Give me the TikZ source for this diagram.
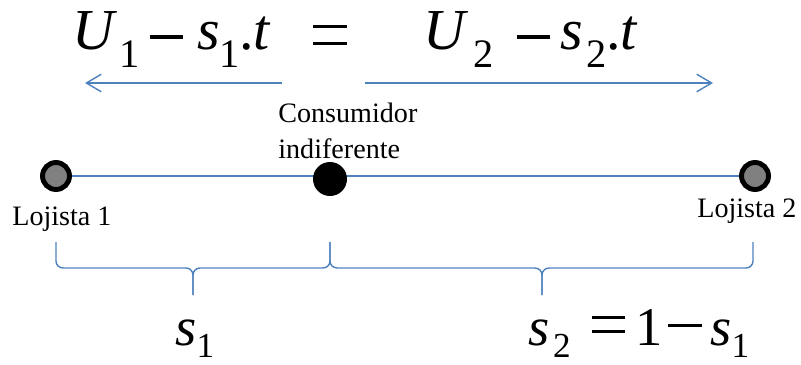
\documentclass[tikz,border=0pt]{standalone}
\usepackage{fontspec}
\setmainfont{Liberation Serif}
\usetikzlibrary{arrows.meta,backgrounds}
\definecolor{lineblue}{RGB}{79,129,189}
% índice, sinal de menos e sinal de igual
\newcommand\msub[3]{\raisebox{-#1}{\fontsize{#2}{#2}\selectfont #3}}
\newcommand\mminus[1]{\raisebox{#1}{\rule{19pt}{1.8pt}}}
\newcommand\mequal[2]{\rlap{\raisebox{#1}{\rule{19pt}{1.8pt}}}\raisebox{#2}{\rule{19pt}{1.8pt}}}
\begin{document}
\begin{tikzpicture}[x=0.02cm, y=-0.02cm,
    store/.style={circle, draw=black, line width=2.8pt, fill=black!50, minimum size=27*0.02cm, inner sep=0pt},
    cons/.style={circle, fill=black, minimum size=34*0.02cm, inner sep=0pt},
    lbl/.style={font=\fontsize{16}{20}\selectfont, inner sep=0pt},
    eq/.style={font=\fontsize{33}{33}\selectfont, inner sep=0pt},
    eqb/.style={font=\fontsize{31}{31}\selectfont, inner sep=0pt},
    arrow/.style={-{Straight Barb[length=8.5pt, width=10pt]}, lineblue, line width=0.8pt},
    brc/.style={lineblue, line width=0.8pt, rounded corners=4pt}
]
    \useasboundingbox (0,0) rectangle (801,365);
    % equação de indiferença
    \node[eq, anchor=base west] (eq1) at (72,50)
        {\textit{U}\hspace{1pt}\msub{10pt}{23}{1}\hspace{6pt}\mminus{6.5pt}\hspace{8pt}\textit{s}\msub{10pt}{23}{1}\hspace{-0.5pt}.\textit{t}};
    \node[eq, anchor=base west] (eqeq) at (313,50) {\mequal{2.8pt}{12.3pt}};
    \node[eq, anchor=base west] (eq2) at (423,50)
        {\textit{U}\hspace{3pt}\msub{10pt}{23}{2}\hspace{13pt}\mminus{6.5pt}\hspace{6pt}\textit{s}\hspace{2pt}\msub{10pt}{23}{2}\hspace{-0.5pt}.\textit{t}};
    % setas
    \coordinate (la) at (282,83);
    \coordinate (lb) at (85,83);
    \coordinate (ra) at (365,83);
    \coordinate (rb) at (713,83);
    \draw[arrow] (la) -- (lb);
    \draw[arrow] (ra) -- (rb);
    % lojistas e consumidor
    \node[store] (l1) at (56,176) {};
    \node[store] (l2) at (755,176) {};
    \node[cons] (c) at (330,179) {};
    \begin{pgfonlayer}{background}
        \draw[lineblue, line width=1.1pt] (l1) -- (l2);
    \end{pgfonlayer}
    \node[lbl, anchor=base west, align=left] (ctxt) at (278,158) {Consumidor\\indiferente};
    \node[lbl, anchor=base west] (t1) at (12,225) {Lojista 1};
    \node[lbl, anchor=base west] (t2) at (697,217) {Lojista 2};
    % chaves
    \draw[brc] (56,242) -- (56,268) -- (193,268) -- (193,295);
    \draw[brc] (330,242) -- (330,268) -- (193,268) -- (193,295);
    \draw[brc] (330,242) -- (330,268) -- (542,268) -- (542,295);
    \draw[brc] (753,242) -- (753,268) -- (542,268) -- (542,295);
    % distâncias
    \node[eqb, anchor=base west] (s1) at (175,345) {\textit{s}\msub{7pt}{20}{1}};
    \node[eqb, anchor=base west] (s2) at (528,345)
        {\textit{s}\hspace{2pt}\msub{7pt}{20}{2}\hspace{12pt}\mequal{6.8pt}{14.7pt}\hspace{6pt}1\hspace{3pt}\mminus{10pt}\hspace{5pt}\textit{s}\msub{7pt}{20}{1}};
\end{tikzpicture}
\end{document}
